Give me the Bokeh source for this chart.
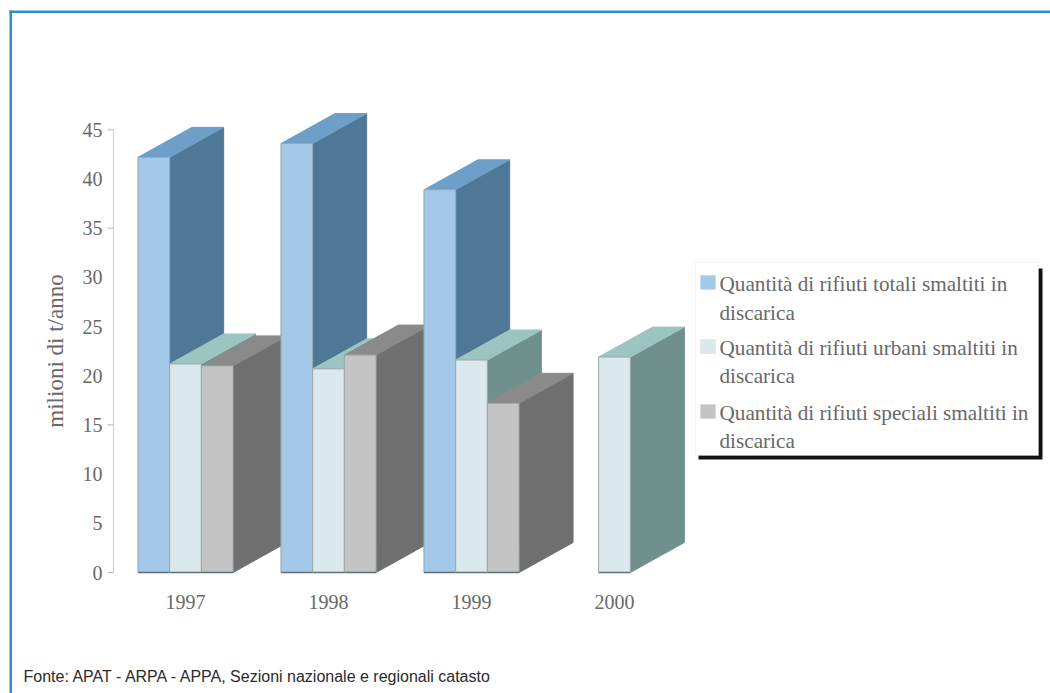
from bokeh.plotting import figure
from bokeh.models import BoxAnnotation, Label, FixedTicker, Range1d
from bokeh.embed import file_html
from bokeh.resources import INLINE

years = ["1997", "1998", "1999", "2000"]
totali = [42.2, 43.6, 38.9, None]
urbani = [21.2, 20.7, 21.6, 21.9]
speciali = [21.0, 22.1, 17.2, None]
y_ticks = [0, 5, 10, 15, 20, 25, 30, 35, 40, 45]
visible_tick_marks = [0, 15, 35, 45]
y_title = "milioni di t/anno"
legend_lines = [
    ("Quantità di rifiuti totali smaltiti in", "discarica"),
    ("Quantità di rifiuti urbani smaltiti in", "discarica"),
    ("Quantità di rifiuti speciali smaltiti in", "discarica"),
]
source_note = "Fonte: APAT - ARPA - APPA, Sezioni nazionale e regionali catasto"

# geometry (canvas pixels)
W, H = 1050, 693
BASE_Y = 572.0
PX_PER_UNIT = (572.0 - 129.3) / 45
GROUP0_X, GROUP_STEP = 185.0, 143.0
AXIS_X = 113.0
BAR_W = 31.7 / GROUP_STEP
DEPTH_X = 54.0 / GROUP_STEP
DEPTH_Y = 30.0 / PX_PER_UNIT
axis_x = (AXIS_X - GROUP0_X) / GROUP_STEP
tick_len = 6.0 / GROUP_STEP

p = figure(
    width=W, height=H, output_backend="svg", toolbar_location=None,
    x_range=Range1d(-GROUP0_X / GROUP_STEP, (W - GROUP0_X) / GROUP_STEP),
    y_range=Range1d((BASE_Y - H) / PX_PER_UNIT, BASE_Y / PX_PER_UNIT),
    min_border_left=0, min_border_right=0, min_border_top=0, min_border_bottom=0,
)
p.outline_line_color = None
p.grid.visible = False

AXIS_TEXT = "#686868"
ax = p.yaxis[0]
ax.fixed_location = axis_x
ax.ticker = FixedTicker(ticks=y_ticks)
ax.bounds = (0, 45)
ax.axis_line_color = "#cfcfcf"
ax.major_tick_line_color = None
ax.minor_tick_line_color = None
ax.major_label_text_font = "Liberation Serif"
ax.major_label_text_font_size = "20px"
ax.major_label_text_color = AXIS_TEXT
ax.major_label_standoff = 5
ax.axis_label = y_title
ax.axis_label_text_font = "Liberation Serif"
ax.axis_label_text_font_size = "23px"
ax.axis_label_text_font_style = "normal"
ax.axis_label_text_color = AXIS_TEXT
ax.axis_label_standoff = 12

bx = p.xaxis[0]
bx.fixed_location = 0
bx.ticker = FixedTicker(ticks=list(range(len(years))))
bx.major_label_overrides = {i: y for i, y in enumerate(years)}
bx.axis_line_color = None
bx.major_tick_line_color = None
bx.minor_tick_line_color = None
bx.major_label_text_font = "Liberation Serif"
bx.major_label_text_font_size = "20px"
bx.major_label_text_color = AXIS_TEXT
bx.major_label_standoff = 16

p.segment([axis_x - tick_len] * len(visible_tick_marks), visible_tick_marks,
          [axis_x] * len(visible_tick_marks), visible_tick_marks,
          line_color="#b5b5b5", line_width=1)

series = [
    (totali, "#a3c8e8", "#6e9fc9", "#4f7896"),
    (urbani, "#dbe9ee", "#9cc5c2", "#70908e"),
    (speciali, "#c4c4c4", "#8a8a8a", "#6f6f6f"),
]
EDGE = "#5d6f78"
for g in range(len(years)):
    for s, (vals, front, top, side) in enumerate(series):
        v = vals[g]
        if v is None:
            continue
        x0 = g + (s - 1.5) * BAR_W
        x1 = x0 + BAR_W
        p.patch([x1, x1 + DEPTH_X, x1 + DEPTH_X, x1], [0, DEPTH_Y, v + DEPTH_Y, v],
                fill_color=side, line_color=side, line_width=1)
        p.patch([x0, x1, x1 + DEPTH_X, x0 + DEPTH_X], [v, v, v + DEPTH_Y, v + DEPTH_Y],
                fill_color=top, line_color=top, line_width=1)
        p.patch([x0, x1, x1, x0], [0, 0, v, v],
                fill_color=front, line_color="#9aa7ad", line_width=1)
        p.line([x0, x1], [0, 0], line_color=EDGE, line_width=1.5)


def rect(l, r, t, b, **kw):
    kw.setdefault("fill_alpha", 1)
    return BoxAnnotation(left=l, right=r, top=t, bottom=b,
                         left_units="canvas", right_units="canvas",
                         top_units="canvas", bottom_units="canvas", **kw)


# page frame: top and left rules only
p.add_layout(rect(9, W, 10, 12.5, fill_color="#2f8fc4", line_color=None))
p.add_layout(rect(9, 11.5, 10, H, fill_color="#2f8fc4", line_color=None))

# legend box
p.add_layout(rect(698, 1042, 268, 459, fill_color="#111111", line_color=None))
p.add_layout(rect(695, 1038, 262, 455, fill_color="white", line_color="#d8d8d8", line_width=1))
rows_y = [(283, 312), (347, 375), (412, 440)]
for (first, second), (y1, y2), (_, front, _, _) in zip(legend_lines, rows_y, series):
    p.add_layout(rect(700, 715, y1 - 8, y1 + 6, fill_color=front, line_color="#b0b0b0", line_width=0.5))
    for txt, yy in ((first, y1), (second, y2)):
        p.add_layout(Label(x=719, y=yy, x_units="canvas", y_units="canvas", text=txt,
                           text_font="Liberation Serif", text_font_size="21.2px", text_color=AXIS_TEXT,
                           text_baseline="middle", text_align="left"))

p.add_layout(Label(x=23, y=676, x_units="canvas", y_units="canvas", text=source_note,
                   text_font="Liberation Sans", text_font_size="16px", text_color="#2b2b2b",
                   text_baseline="middle", text_align="left"))

open("out.html", "w").write(file_html(p, INLINE))
